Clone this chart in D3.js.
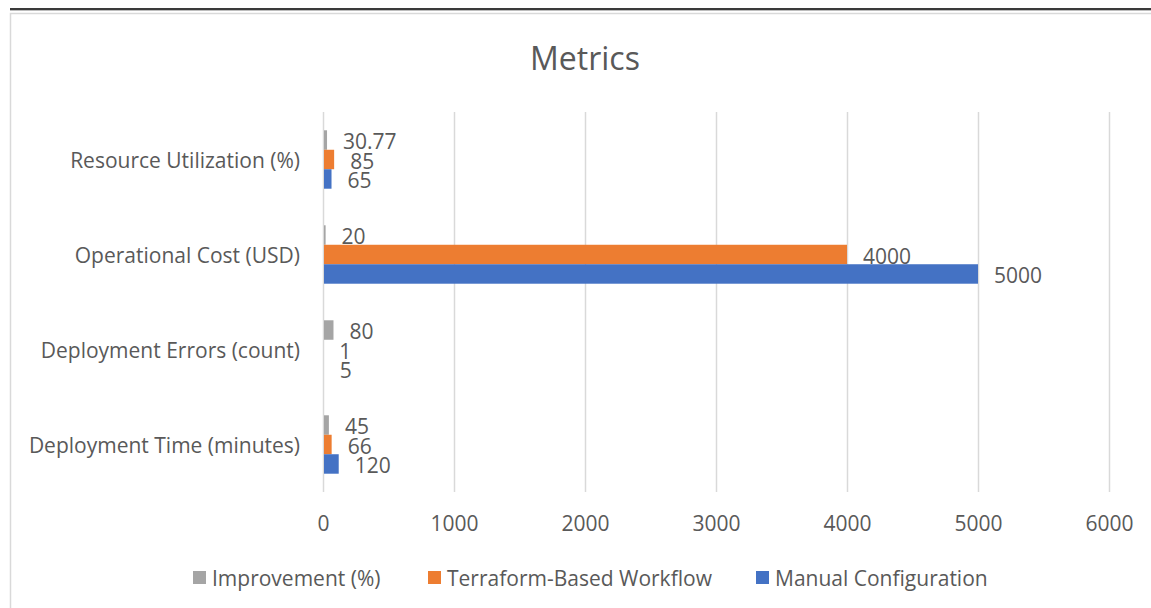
<!DOCTYPE html>
<html><head><meta charset="utf-8">
<script src="https://cdn.jsdelivr.net/npm/d3@7"></script>
<style>
html,body{margin:0;padding:0;background:#fff;}
svg{display:block;font-family:"Open Sans",sans-serif;}
</style></head>
<body>
<svg id="c" width="1151" height="608"></svg>
<script>
const categories = ["Resource Utilization (%)", "Operational Cost (USD)", "Deployment Errors (count)", "Deployment Time (minutes)"];
const seriesNames = ["Improvement (%)", "Terraform-Based Workflow", "Manual Configuration"];
const improvement = [30.77, 20, 80, 45];
const terraform = [85, 4000, 1, 66];
const manual = [65, 5000, 5, 120];
const labelText = {
  "Improvement (%)": ["30.77", "20", "80", "45"],
  "Terraform-Based Workflow": ["85", "4000", "1", "66"],
  "Manual Configuration": ["65", "5000", "5", "120"]
};
const xTicks = [0, 1000, 2000, 3000, 4000, 5000, 6000];
const colors = ["#A5A5A5", "#ED7D31", "#4472C4"];
const legendOrder = ["Improvement (%)", "Terraform-Based Workflow", "Manual Configuration"];

const seriesValues = [improvement, terraform, manual];
const svg = d3.select("#c");
const txt = "#595959";

// top dark rule and chart border
svg.append("line").attr("x1", 10).attr("x2", 1151).attr("y1", 9).attr("y2", 9)
  .attr("stroke", "#3a3a3a").attr("stroke-width", 2);
svg.append("line").attr("x1", 10).attr("x2", 1151).attr("y1", 10.5).attr("y2", 10.5)
  .attr("stroke", "#bdbdbd").attr("stroke-width", 1);
svg.append("rect").attr("x", 10.5).attr("y", 13.5).attr("width", 1200).attr("height", 700)
  .attr("fill", "none").attr("stroke", "#d9d9d9").attr("stroke-width", 1.5);

// title
svg.append("text").attr("x", 585).attr("y", 57).attr("text-anchor", "middle")
  .attr("dominant-baseline", "central").attr("font-size", 32).attr("fill", txt).text("Metrics");

const x = d3.scaleLinear().domain([0, 6000]).range([323, 1109]);
const y = d3.scaleBand().domain(categories).range([112, 492]).padding(0);
const inner = y.bandwidth() * 0.615;
const ys = d3.scaleBand().domain(seriesNames)
  .range([(y.bandwidth() - inner) / 2, (y.bandwidth() + inner) / 2]).padding(0);

// gridlines
svg.append("g").selectAll("line").data(xTicks).join("line")
  .attr("x1", d => Math.round(x(d)) + 0.5).attr("x2", d => Math.round(x(d)) + 0.5)
  .attr("y1", 112).attr("y2", 492).attr("stroke", "#d9d9d9").attr("stroke-width", 1.5);

// x axis labels
const xAxis = d3.axisBottom(x).tickValues(xTicks).tickSize(0).tickPadding(0).tickFormat(d3.format("d"));
const gx = svg.append("g").attr("transform", "translate(0,516)").call(xAxis);
gx.select(".domain").remove();
gx.selectAll("text").attr("font-family", "Open Sans").attr("font-size", 21).attr("fill", txt)
  .attr("dy", null).attr("y", 7).attr("dominant-baseline", "central");

// y axis labels
const yAxis = d3.axisLeft(y).tickSize(0).tickPadding(0);
const gy = svg.append("g").attr("transform", "translate(300,0)").call(yAxis);
gy.select(".domain").remove();
gy.selectAll("text").attr("font-family", "Open Sans").attr("font-size", 21).attr("fill", txt)
  .attr("dy", null).attr("dominant-baseline", "central");

// bars
seriesNames.forEach((s, si) => {
  const g = svg.append("g");
  const data = categories.map((c, ci) => ({c, v: seriesValues[si][ci], lab: labelText[s][ci]}));
  g.selectAll("rect").data(data).join("rect")
    .attr("x", x(0) + 1).attr("y", d => y(d.c) + ys(s))
    .attr("width", d => Math.max(0, x(d.v) - x(0) - 1)).attr("height", ys.bandwidth())
    .attr("fill", colors[si]);
  g.selectAll("text").data(data).join("text")
    .attr("x", d => x(d.v) + 16).attr("y", d => y(d.c) + ys(s) + ys.bandwidth() / 2 + 1)
    .attr("dominant-baseline", "central").attr("font-size", 21).attr("fill", txt).text(d => d.lab);
});

// legend
const legX = [193, 428, 756];
const lg = svg.append("g");
legendOrder.forEach((s, i) => {
  const ci = seriesNames.indexOf(s);
  lg.append("rect").attr("x", legX[i]).attr("y", 571).attr("width", 13).attr("height", 13).attr("fill", colors[ci]);
  lg.append("text").attr("x", legX[i] + 19).attr("y", 577.5).attr("dominant-baseline", "central")
    .attr("font-size", 21).attr("fill", txt).text(s);
});
</script>
</body></html>
